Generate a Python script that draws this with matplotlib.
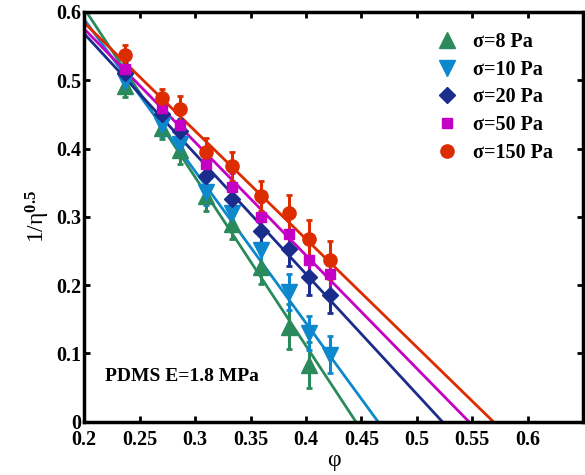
from matplotlib import use

use("Agg")

from matplotlib import pyplot
from matplotlib.ticker import FuncFormatter
import numpy as np

# volume fraction phi, shared by all series
phi = [0.237, 0.270, 0.286, 0.310, 0.333, 0.359, 0.385, 0.403, 0.422]

labels = ["σ=8 Pa", "σ=10 Pa", "σ=20 Pa", "σ=50 Pa", "σ=150 Pa"]

# 1/eta^0.5 for each stress
y_8 = [0.491, 0.430, 0.398, 0.331, 0.290, 0.227, 0.139, 0.083]
y_10 = [0.499, 0.434, 0.407, 0.337, 0.305, 0.251, 0.190, 0.130, 0.098]
y_20 = [0.511, 0.450, 0.425, 0.360, 0.326, 0.280, 0.253, 0.212, 0.186]
y_50 = [0.516, 0.459, 0.434, 0.378, 0.344, 0.300, 0.275, 0.237, 0.216]
y_150 = [0.537, 0.474, 0.458, 0.395, 0.374, 0.331, 0.306, 0.267, 0.237]

err_8 = [0.016, 0.016, 0.020, 0.022, 0.022, 0.025, 0.033, 0.034]
err_10 = [0.015, 0.015, 0.018, 0.020, 0.020, 0.022, 0.027, 0.025, 0.027]
err_20 = [0.015, 0.015, 0.018, 0.020, 0.020, 0.022, 0.025, 0.027, 0.027]
err_50 = [0.015, 0.015, 0.018, 0.020, 0.020, 0.022, 0.025, 0.028, 0.028]
err_150 = [0.015, 0.013, 0.019, 0.020, 0.021, 0.022, 0.026, 0.029, 0.028]

# linear fits: value at phi=0.2 and the phi where 1/eta^0.5 -> 0
fit_y0 = [0.605, 0.589, 0.568, 0.575, 0.584]
fit_phi_c = [0.445, 0.465, 0.523, 0.547, 0.569]

colors = ["#2b8a5c", "#0e88cc", "#1b2d8c", "#c400c4", "#dd2c00"]
markers = ["^", "v", "D", "s", "o"]
sizes = [11, 11, 8, 7.5, 9.5]

pyplot.rcParams["font.family"] = ["Liberation Serif", "DejaVu Serif"]
pyplot.rcParams["mathtext.fontset"] = "custom"
pyplot.rcParams["mathtext.rm"] = "Liberation Serif"
pyplot.rcParams["mathtext.it"] = "Liberation Serif"
pyplot.rcParams["mathtext.bf"] = "Liberation Serif:bold"

fig = pyplot.figure(figsize=(5.85, 4.75), dpi=100)
ax = fig.add_axes([0.144, 0.112, 0.853, 0.863])

ys = [y_8, y_10, y_20, y_50, y_150]
errs = [err_8, err_10, err_20, err_50, err_150]

for i in range(5):
    x = phi[: len(ys[i])]
    ax.plot([0.2, fit_phi_c[i]], [fit_y0[i], 0], c=colors[i], lw=2, zorder=2)
    ax.errorbar(
        x,
        ys[i],
        yerr=errs[i],
        fmt=markers[i],
        c=colors[i],
        ms=sizes[i],
        elinewidth=2.2,
        capsize=2,
        capthick=2,
        zorder=3,
        label=labels[i],
    )

ax.set_xlim(0.2, 0.65)
ax.set_ylim(0, 0.6)
ax.set_xticks([0.2, 0.25, 0.3, 0.35, 0.4, 0.45, 0.5, 0.55, 0.6])
ax.set_yticks([0, 0.1, 0.2, 0.3, 0.4, 0.5, 0.6])
fmt = FuncFormatter(lambda v, p: f"{v:g}")
ax.xaxis.set_major_formatter(fmt)
ax.yaxis.set_major_formatter(fmt)
ax.tick_params(direction="in", length=4, width=2, top=True, right=True, labelsize=14.5)
ax.tick_params(axis="x", pad=6)
ax.tick_params(axis="y", pad=2)
for lab in ax.get_xticklabels() + ax.get_yticklabels():
    lab.set_fontweight("bold")
for s in ax.spines.values():
    s.set_linewidth(2.5)

ax.set_xlabel("φ", fontsize=17, labelpad=0)
ax.set_ylabel(r"1/η$^{\mathbf{0.5}}$", fontsize=17, labelpad=3)

ax.text(0.2185, 0.067, "PDMS E=1.8 MPa", fontsize=14, fontweight="bold",
        va="center", ha="left")

handles, labs = ax.get_legend_handles_labels()
handles = [h[0] for h in handles]
leg = ax.legend(
    handles, labs, loc="upper right", frameon=False,
    prop={"weight": "bold", "size": 14.5}, handletextpad=0.5,
    labelspacing=0.38, bbox_to_anchor=(0.975, 0.995), numpoints=1,
    handlelength=1.5,
)

fig.savefig("out.png", dpi=100)
pyplot.close(fig)
